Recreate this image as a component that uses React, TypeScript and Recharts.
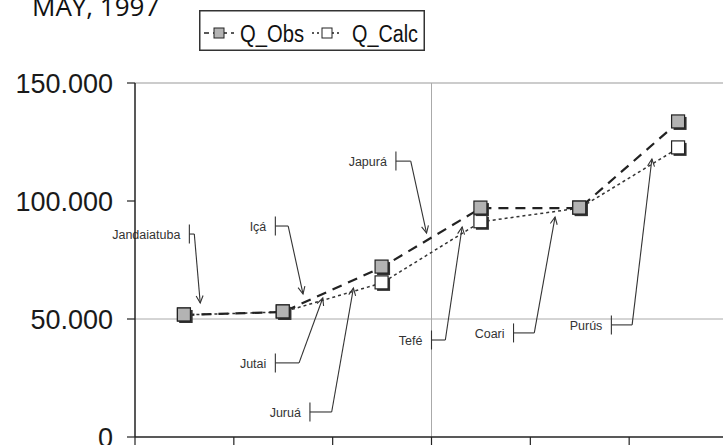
import {
  Legend,
  Line,
  LineChart,
  ReferenceLine,
  XAxis,
  YAxis,
} from "recharts";

// gauging stations along the river, in downstream order (x labels are cut off in the source)
const stations = ["S1", "S2", "S3", "S4", "S5", "S6"];
const qObs = [51700, 53000, 72000, 97000, 97000, 133500];
const qCalc = [51700, 53000, 65300, 91200, 97000, 122500];
const yTicks = [0, 50000, 100000, 150000];
const xTicks = [0, 1, 2, 3, 4, 5, 6];

// tributary callouts: bracket point, elbow point, arrow tip (data coords)
const tributaries = ["Jandaiatuba", "Içá", "Jutai", "Juruá", "Japurá", "Tefé", "Coari", "Purús"];
const bracketAt = [
  [0.55, 86000], [1.42, 89400], [1.42, 31400], [1.77, 10600],
  [2.64, 116900], [3.0, 41100], [3.83, 44100], [4.82, 47500],
];
const elbowAt = [
  [0.6, 86000], [1.55, 89400], [1.66, 31400], [1.99, 10600],
  [2.79, 116900], [3.14, 41100], [4.04, 44100], [5.03, 47500],
];
const tipAt = [
  [0.66, 56800], [1.7, 60600], [1.9, 58900], [2.21, 63100],
  [2.95, 86400], [3.31, 89000], [4.25, 93200], [5.23, 117800],
];

const data = stations.map((station, i) => ({
  station,
  pos: i + 0.5,
  obs: qObs[i],
  calc: qCalc[i],
}));

const fmt = (v: number) =>
  v === 0 ? "0" : `${Math.floor(v / 1000)}.${String(v % 1000).padStart(3, "0")}`;

const ink = "#222";

function Square({ cx, cy, fill }: any) {
  if (cx == null || cy == null) return <g />;
  return (
    <g>
      <rect x={cx - 5} y={cy - 5} width={13} height={13} fill="#333" />
      <rect x={cx - 7} y={cy - 7} width={13} height={13} fill={fill} stroke={ink} strokeWidth={1.2} />
    </g>
  );
}

const bracketShape = (name: string) => (p: any) => {
  const { x1, y1, x2, y2 } = p;
  return (
    <g stroke="#333" strokeWidth={1.1}>
      <line x1={x1} y1={y1 - 9.5} x2={x1} y2={y1 + 9.5} />
      <line x1={x1} y1={y1} x2={x2} y2={y2} />
      <text
        x={x1 - 9}
        y={y1 + 2}
        textAnchor="end"
        dominantBaseline="middle"
        stroke="none"
        fill="#333"
        fontSize={12.5}
        fontFamily="Liberation Sans, Arial, sans-serif"
      >
        {name}
      </text>
    </g>
  );
};

const arrowShape = (p: any) => {
  const { x1, y1, x2, y2 } = p;
  const a = Math.atan2(y2 - y1, x2 - x1);
  const len = 8;
  const s = 0.45;
  const ax = x2 - len * Math.cos(a - s);
  const ay = y2 - len * Math.sin(a - s);
  const bx = x2 - len * Math.cos(a + s);
  const by = y2 - len * Math.sin(a + s);
  return (
    <g stroke="#333" strokeWidth={1.1} fill="none">
      <line x1={x1} y1={y1} x2={x2} y2={y2} />
      <polyline points={`${ax},${ay} ${x2},${y2} ${bx},${by}`} />
    </g>
  );
};

function LegendBox({ payload }: any) {
  const items = payload || [];
  return (
    <svg width={226} height={41} style={{ display: "block" }}>
      <rect x={0.75} y={0.75} width={224.5} height={39.5} fill="#fff" stroke="#333" strokeWidth={1.5} />
      {items.map((it: any) => {
        const obs = it.dataKey === "obs";
        const x0 = obs ? 5 : 113;
        const tx = obs ? 41 : 153;
        return (
          <g key={it.value}>
            <line
              x1={x0}
              y1={23}
              x2={x0 + 30}
              y2={23}
              stroke={ink}
              strokeWidth={1.6}
              strokeDasharray={obs ? "5 4" : "2 3"}
            />
            <rect x={x0 + 10} y={18} width={10} height={10} fill={obs ? "#b3b3b3" : "#fff"} stroke={ink} strokeWidth={1} />
            <text
              x={tx}
              y={32}
              fontSize={23}
              fontFamily="Liberation Sans, Arial, sans-serif"
              fill="#111"
              textLength={obs ? 64 : 66}
              lengthAdjust="spacingAndGlyphs"
            >
              {it.value}
            </text>
          </g>
        );
      })}
    </svg>
  );
}

export default function App() {
  return (
    <div
      style={{
        position: "fixed",
        left: 0,
        top: 0,
        width: 723,
        height: 445,
        overflow: "hidden",
        background: "#fff",
      }}
    >
      <div
        style={{
          position: "absolute",
          left: 32,
          top: -7,
          fontFamily: "Open Sans, sans-serif",
          fontSize: 26,
          lineHeight: "26px",
          color: "#111",
          whiteSpace: "nowrap",
        }}
      >
        MAY, 1997
      </div>
      <LineChart
        width={740}
        height={460}
        data={data}
        margin={{ top: 83, right: 12, bottom: 3, left: 0 }}
      >
        <XAxis
          type="number"
          dataKey="pos"
          domain={[0, 6]}
          ticks={xTicks}
          tickFormatter={() => ""}
          height={20}
          tickSize={8}
          axisLine={{ stroke: ink, strokeWidth: 1.5 }}
          tickLine={{ stroke: ink, strokeWidth: 1.2 }}
        />
        <YAxis
          type="number"
          domain={[0, 150000]}
          ticks={yTicks}
          tickFormatter={fmt}
          width={135}
          tickSize={8}
          tickMargin={14}
          axisLine={{ stroke: ink, strokeWidth: 1.5 }}
          tickLine={{ stroke: ink, strokeWidth: 1.2 }}
          tick={{ fill: "#1a1a1a", fontSize: 27, fontFamily: "Liberation Sans, Arial, sans-serif" }}
        />
        <ReferenceLine y={50000} stroke="#aaa" strokeWidth={1} />
        <ReferenceLine y={150000} stroke="#999" strokeWidth={1.2} />
        <ReferenceLine x={3} stroke="#aaa" strokeWidth={1} />
        {tributaries.map((name, i) => (
          <ReferenceLine
            key={`b-${name}`}
            segment={[
              { x: bracketAt[i][0], y: bracketAt[i][1] },
              { x: elbowAt[i][0], y: elbowAt[i][1] },
            ]}
            shape={bracketShape(name)}
          />
        ))}
        {tributaries.map((name, i) => (
          <ReferenceLine
            key={`a-${name}`}
            segment={[
              { x: elbowAt[i][0], y: elbowAt[i][1] },
              { x: tipAt[i][0], y: tipAt[i][1] },
            ]}
            shape={arrowShape}
          />
        ))}
        <Legend
          layout="horizontal"
          verticalAlign="middle"
          align="center"
          width={226}
          height={41}
          wrapperStyle={{ top: 10, left: 199, width: 226, height: 41 }}
          content={<LegendBox />}
        />
        <Line
          dataKey="calc"
          name="Q_Calc"
          stroke="#333"
          strokeWidth={1.5}
          strokeDasharray="3 3"
          dot={(p: any) => <Square key={`c-${p.index}`} cx={p.cx} cy={p.cy} fill="#fff" />}
          activeDot={false}
          isAnimationActive={false}
        />
        <Line
          dataKey="obs"
          name="Q_Obs"
          stroke={ink}
          strokeWidth={2.2}
          strokeDasharray="10 7"
          dot={(p: any) => <Square key={`o-${p.index}`} cx={p.cx} cy={p.cy} fill="#b3b3b3" />}
          activeDot={false}
          isAnimationActive={false}
        />
      </LineChart>
    </div>
  );
}
